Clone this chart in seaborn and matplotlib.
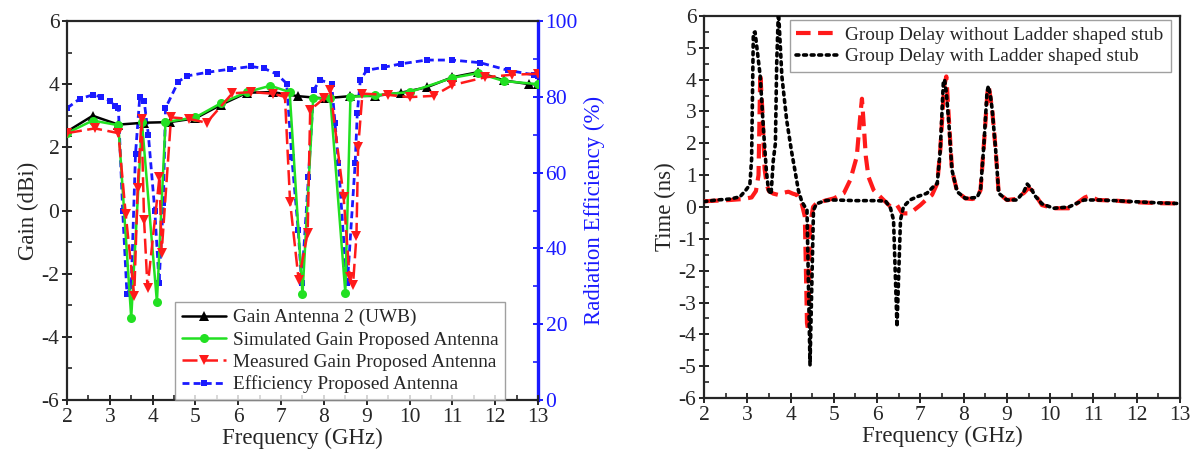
import numpy as np
import pandas as pd
import matplotlib
matplotlib.use("Agg")
import matplotlib.pyplot as plt
from matplotlib.ticker import MultipleLocator
from matplotlib.lines import Line2D
import seaborn as sns

# ---------------- data: gain / efficiency ----------------
freq_uwb = [2.0, 2.6, 3.2, 3.8, 4.4, 5.0, 5.6, 6.2, 6.8, 7.4, 8.0, 8.6, 9.2, 9.8,
            10.4, 11.0, 11.6, 12.2, 12.8, 13.0]
gain_uwb = [2.5, 3.0, 2.72, 2.78, 2.8, 2.92, 3.35, 3.73, 3.75, 3.62, 3.55, 3.62, 3.63,
            3.73, 3.9, 4.22, 4.38, 4.12, 4.0, 4.0]

freq_sim = [2.0, 2.6, 3.2, 3.5, 3.75, 4.1, 4.3, 5.0, 5.6, 6.2, 6.75, 7.2, 7.5, 7.75,
            8.15, 8.5, 8.62, 9.2, 10.0, 11.0, 11.6, 12.2, 13.0]
gain_sim = [2.45, 2.85, 2.7, -3.4, 2.8, -2.9, 2.8, 2.95, 3.4, 3.75, 3.95, 3.75, -2.65,
            3.55, 3.55, -2.6, 3.6, 3.65, 3.75, 4.2, 4.35, 4.1, 4.0]

freq_meas = [2.0, 2.65, 3.2, 3.37, 3.57, 3.65, 3.74, 3.8, 3.88, 4.16, 4.21, 4.43, 4.85,
             5.26, 5.86, 6.3, 6.8, 7.09, 7.21, 7.41, 7.62, 7.68, 8.0, 8.15, 8.46, 8.6,
             8.68, 8.76, 8.8, 8.9, 9.5, 10.0, 10.56, 11.0, 11.77, 12.4, 13.0]
gain_meas = [2.45, 2.6, 2.45, -0.1, -2.7, 0.7, 2.9, -0.3, -2.45, 1.07, -1.33, 2.95, 2.9,
             2.78, 3.71, 3.75, 3.7, 3.6, 0.28, -2.2, -0.72, 3.18, 3.55, 3.82, 0.44, -2.1,
             -2.35, -0.8, 2.0, 3.7, 3.66, 3.59, 3.63, 3.97, 4.22, 4.3, 4.33]

freq_eff = [2.0, 2.3, 2.6, 2.8, 3.0, 3.12, 3.2, 3.3, 3.4, 3.5, 3.6, 3.7, 3.8, 3.9, 4.05,
            4.15, 4.25, 4.3, 4.6, 4.8, 5.3, 5.8, 6.3, 6.6, 6.9, 7.13, 7.25, 7.4, 7.48,
            7.64, 7.76, 7.91, 8.18, 8.26, 8.34, 8.5, 8.55, 8.73, 8.78, 8.85, 9.0, 9.4,
            9.8, 10.4, 11.0, 11.65, 12.3, 12.9, 13.0]
eff = [77.0, 79.5, 80.5, 80.0, 79.0, 77.6, 77.0, 50.0, 28.0, 30.0, 65.0, 80.0, 79.0,
       70.0, 50.0, 31.0, 52.0, 77.0, 84.0, 85.5, 86.5, 87.3, 88.0, 87.5, 86.0, 83.5,
       64.0, 44.9, 30.8, 58.9, 81.8, 84.4, 83.5, 73.0, 62.5, 36.0, 31.0, 62.5, 75.7,
       84.4, 87.0, 87.8, 88.7, 89.7, 89.7, 89.0, 87.0, 85.8, 85.5]

# ---------------- data: group delay ----------------
freq_gd_without = [2.0, 2.3, 2.6, 2.9, 3.1, 3.2, 3.26, 3.3, 3.35, 3.4, 3.45, 3.5, 3.6,
                   3.72, 3.85, 3.95, 4.05, 4.15, 4.26, 4.33, 4.38, 4.41, 4.45, 4.52,
                   4.6, 4.8, 5.0, 5.23, 5.38, 5.53, 5.62, 5.65, 5.7, 5.74, 5.8, 5.92,
                   6.15, 6.31, 6.46, 6.58, 6.73, 6.85, 7.0, 7.15, 7.27, 7.39, 7.46,
                   7.55, 7.6, 7.66, 7.73, 7.85, 8.04, 8.2, 8.31, 8.39, 8.47, 8.55,
                   8.58, 8.66, 8.74, 8.81, 9.0, 9.2, 9.4, 9.5, 9.6, 9.81, 10.08,
                   10.43, 10.6, 10.8, 10.9, 11.1, 11.5, 12.0, 12.5, 13.0]
gd_without = [0.18, 0.2, 0.22, 0.25, 0.3, 0.5, 1.0, 4.2, 3.0, 1.2, 0.7, 0.5, 0.42,
              0.38, 0.45, 0.48, 0.42, 0.38, 0.1, -0.3, -3.65, -3.9, -0.6, 0.0,
              0.12, 0.2, 0.27, 0.43, 0.85, 1.58, 3.0, 3.4, 2.4, 1.58, 0.95, 0.53,
              0.22, 0.01, 0.06, -0.2, -0.2, -0.1, 0.06, 0.25, 0.38, 0.74, 1.8,
              3.8, 4.1, 2.73, 1.16, 0.48, 0.27, 0.25, 0.3, 0.53, 2.0, 3.6,
              3.8, 3.05, 1.79, 0.43, 0.22, 0.25, 0.45, 0.6, 0.5, 0.06, -0.04,
              -0.04, 0.1, 0.3, 0.35, 0.22, 0.2, 0.15, 0.12, 0.11]

freq_gd_with = [2.0, 2.3, 2.6, 2.83, 2.95, 3.06, 3.1, 3.14, 3.18, 3.3, 3.37, 3.44,
                3.49, 3.55, 3.6, 3.65, 3.68, 3.72, 3.8, 3.91, 4.03, 4.1, 4.18,
                4.26, 4.38, 4.45, 4.53, 4.6, 4.8, 5.0, 5.5, 6.0, 6.2, 6.31, 6.38,
                6.46, 6.54, 6.61, 6.76, 6.92, 7.15, 7.3, 7.39, 7.46, 7.53, 7.56,
                7.6, 7.66, 7.73, 7.85, 8.04, 8.31, 8.39, 8.47, 8.54, 8.57, 8.62,
                8.66, 8.74, 8.81, 9.0, 9.23, 9.39, 9.47, 9.55, 9.65, 9.81, 10.08,
                10.43, 10.78, 11.09, 11.5, 11.9, 12.5, 12.95]
gd_with = [0.17, 0.22, 0.25, 0.32, 0.5, 0.7, 1.5, 5.46, 5.5, 4.1, 2.52, 1.16,
           0.53, 0.4, 1.45, 2.0, 4.5, 6.2, 4.1, 2.73, 1.69, 1.16, 0.53,
           0.17, -0.1, -4.96, -0.1, 0.1, 0.2, 0.22, 0.2, 0.2, 0.18, -0.04, -0.41,
           -3.76, -0.41, 0.01, 0.22, 0.32, 0.43, 0.64, 0.74, 1.79, 3.9, 4.0,
           3.6, 2.6, 1.16, 0.48, 0.27, 0.3, 0.53, 2.0, 3.6, 3.8, 3.5,
           3.05, 1.79, 0.43, 0.22, 0.22, 0.48, 0.72, 0.6, 0.35, 0.1, -0.04,
           0.0, 0.22, 0.22, 0.2, 0.17, 0.13, 0.11]

x_ticks = list(range(2, 14))
gain_ticks = [-6, -4, -2, 0, 2, 4, 6]
eff_ticks = [0, 20, 40, 60, 80, 100]
time_ticks = list(range(-6, 7))

# ---------------- style ----------------
sns.set_style("ticks")
plt.rcParams["font.family"] = ["Liberation Serif", "DejaVu Serif"]
plt.rcParams["axes.unicode_minus"] = False

BLACK = "#000000"
GREEN = "#22e022"
RED = "#ff1a1a"
BLUE = "#1a1aff"

fig = plt.figure(figsize=(12.03, 4.66), dpi=100)
ax1 = fig.add_axes([0.0557, 0.1416, 0.3915, 0.8133])
ax2 = ax1.twinx()
ax3 = fig.add_axes([0.5852, 0.1459, 0.3957, 0.8198])

TICK_FS = 15.5
LABEL_FS = 16.5
LEG_FS = 13.9


def style_ticks(ax):
    ax.tick_params(axis="both", which="major", direction="inout", length=7, width=1.4,
                   labelsize=TICK_FS, pad=2)
    ax.tick_params(axis="both", which="minor", direction="in", length=3.5, width=1.2)
    for s in ax.spines.values():
        s.set_linewidth(1.6)


# ---------------- left panel ----------------
sns.lineplot(x=freq_uwb, y=gain_uwb, ax=ax1, color=BLACK, lw=1.8, marker="^",
             markersize=6.5, markeredgewidth=0, estimator=None, sort=False, zorder=3)
sns.lineplot(x=freq_sim, y=gain_sim, ax=ax1, color=GREEN, lw=1.8, marker="o",
             markersize=6.5, markeredgewidth=0, estimator=None, sort=False, zorder=4)
sns.lineplot(x=freq_meas, y=gain_meas, ax=ax1, color=RED, lw=1.8, marker="v",
             markersize=6.5, markeredgewidth=0, linestyle=(0, (6, 2.2)),
             estimator=None, sort=False, zorder=5)
sns.lineplot(x=freq_eff, y=eff, ax=ax2, color=BLUE, lw=2.0, marker="s",
             markersize=5, markeredgewidth=0, linestyle=(0, (2.5, 1.5)),
             estimator=None, sort=False, zorder=6)

ax1.set_xlim(2, 13)
ax1.set_ylim(-6, 6)
ax2.set_ylim(0, 100)
ax1.set_xticks(x_ticks)
ax1.set_yticks(gain_ticks)
ax2.set_yticks(eff_ticks)
ax1.xaxis.set_minor_locator(MultipleLocator(0.5))
ax1.yaxis.set_minor_locator(MultipleLocator(1))
ax2.yaxis.set_minor_locator(MultipleLocator(10))
ax1.set_xlabel("Frequency (GHz)", fontsize=LABEL_FS, labelpad=1)
ax1.set_ylabel("Gain (dBi)", fontsize=LABEL_FS, labelpad=2)
ax2.set_ylabel("Radiation Efficiency (%)", fontsize=LABEL_FS, color=BLUE, labelpad=4)
style_ticks(ax1)
style_ticks(ax2)
ax2.tick_params(axis="y", which="both", colors=BLUE, labelcolor=BLUE)
ax2.spines["right"].set_color(BLUE)
ax2.spines["right"].set_linewidth(2.4)
for s in ("left", "top", "bottom"):
    ax2.spines[s].set_visible(False)
ax1.spines["right"].set_visible(False)
ax1.set_zorder(ax2.get_zorder() + 1)
ax1.patch.set_visible(False)

handles_left = [
    Line2D([], [], color=BLACK, lw=1.8, marker="^", markersize=6.5, markeredgewidth=0),
    Line2D([], [], color=GREEN, lw=1.8, marker="o", markersize=6.5, markeredgewidth=0),
    Line2D([], [], color=RED, lw=1.8, marker="v", markersize=6.5, markeredgewidth=0,
           linestyle=(0, (6, 2.2))),
    Line2D([], [], color=BLUE, lw=2.0, marker="s", markersize=5, markeredgewidth=0,
           linestyle=(0, (2.5, 1.5))),
]
labels_left = ["Gain Antenna 2 (UWB)", "Simulated Gain Proposed Antenna",
               "Measured Gain Proposed Antenna", "Efficiency Proposed Antenna"]
leg1 = ax1.legend(handles_left, labels_left, loc="lower left",
                  bbox_to_anchor=(0.229, 0.0), borderaxespad=0.0, fontsize=LEG_FS,
                  frameon=True, fancybox=False, edgecolor="#888888",
                  handlelength=2.3, handletextpad=0.35, labelspacing=0.24,
                  borderpad=0.35)
leg1.get_frame().set_linewidth(1.0)
leg1.set_zorder(20)

# ---------------- right panel ----------------
sns.lineplot(x=freq_gd_without, y=gd_without, ax=ax3, color=RED, lw=3.0,
             linestyle=(0, (3.5, 1.8)), estimator=None, sort=False, zorder=3)
sns.lineplot(x=freq_gd_with, y=gd_with, ax=ax3, color=BLACK, lw=2.6,
             linestyle=(0, (0.8, 1.3)), dash_capstyle="round", estimator=None,
             sort=False, zorder=4)
ax3.set_xlim(2, 13)
ax3.set_ylim(-6, 6)
ax3.set_xticks(x_ticks)
ax3.set_yticks(time_ticks)
ax3.xaxis.set_minor_locator(MultipleLocator(0.5))
ax3.yaxis.set_minor_locator(MultipleLocator(0.5))
ax3.set_xlabel("Frequency (GHz)", fontsize=LABEL_FS, labelpad=1)
ax3.set_ylabel("Time (ns)", fontsize=LABEL_FS, labelpad=2)
style_ticks(ax3)

handles_right = [
    Line2D([], [], color=RED, lw=3.0, linestyle=(0, (3.5, 1.8))),
    Line2D([], [], color=BLACK, lw=2.6, linestyle=(0, (0.8, 1.3)),
           dash_capstyle="round"),
]
labels_right = ["Group Delay without Ladder shaped stub",
                "Group Delay with Ladder shaped stub"]
leg2 = ax3.legend(handles_right, labels_right, loc="upper right",
                  bbox_to_anchor=(0.98, 0.99), borderaxespad=0.0, fontsize=LEG_FS,
                  frameon=True, fancybox=False, edgecolor="#888888",
                  handlelength=2.2, handletextpad=0.35, labelspacing=0.2,
                  borderpad=0.35)
leg2.get_frame().set_linewidth(1.0)

fig.savefig("out.png", dpi=100)
